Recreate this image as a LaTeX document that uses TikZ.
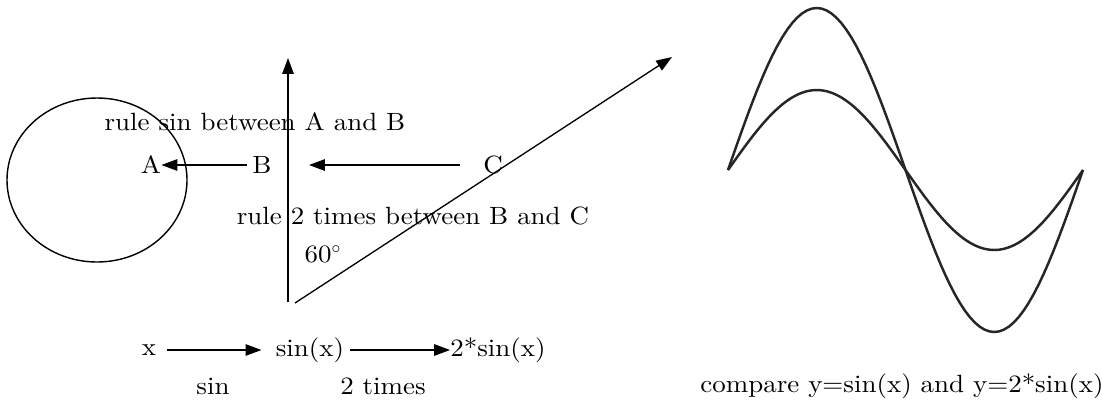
\documentclass[tikz,border=0pt]{standalone}
\usepackage{fontspec}
\setmainfont{lmroman10-regular.otf}[FakeStretch=1.08]
\usetikzlibrary{arrows.meta}
\begin{document}
\begin{tikzpicture}[x=0.02cm,y=-0.02cm,
  lbl/.style={inner sep=0pt,font=\fontsize{14.2}{16}\selectfont},
  arr/.style={line width=0.75pt,-{Triangle[length=9pt,width=6.5pt]}},
  curve/.style={line width=1.4pt,color=black!85}]
\useasboundingbox (0,0) rectangle (1102,407);
% circle
\draw[line width=0.8pt] (97,180) ellipse [x radius=90, y radius=82];
% texts
\node[lbl] (rs) at (255,122) {rule sin between A and B};
\node[lbl] (A) at (151,165) {A};
\node[lbl] (B) at (262,165) {B};
\node[lbl] (C) at (493,165) {C};
\node[lbl] (r2) at (413,216) {rule 2 times between B and C};
\node[lbl] (deg) at (323,254) {60$^\circ$};
% axes
\coordinate (O1) at (288,302);
\coordinate (T1) at (288,58);
\coordinate (O2) at (295,303);
\coordinate (T2) at (672,57);
\draw[arr] (O1) -- (T1);
\draw[arr] (O2) -- (T2);
% arrows between A,B,C
\draw[arr] ([xshift=-3pt]B.west) -- (A.east);
\coordinate (c1) at (460,165);
\coordinate (c2) at (309,165);
\draw[arr] (c1) -- (c2);
% bottom row
\node[lbl] (x) at (149,350) {x};
\node[lbl] (sx) at (310,350) {sin(x)};
\node[lbl] (tsx) at (498,350) {2*sin(x)};
\draw[arr] ([xshift=10pt]x.center) -- ([xshift=-8pt]sx.west);
\draw[arr] ([xshift=3pt]sx.east) -- (tsx.west);
\node[lbl] (lsin) at (213,386) {sin};
\node[lbl] (l2t) at (383,386) {2 times};
% curves
\draw[curve] plot[domain=0:360,samples=73] ({728+\x/360*355},{170-162*sin(\x)});
\draw[curve] plot[domain=0:360,samples=73] ({728+\x/360*355},{170-80*sin(\x)});
\node[lbl] (cmp) at (902,386) {compare y=sin(x) and y=2*sin(x)};
\end{tikzpicture}
\end{document}
